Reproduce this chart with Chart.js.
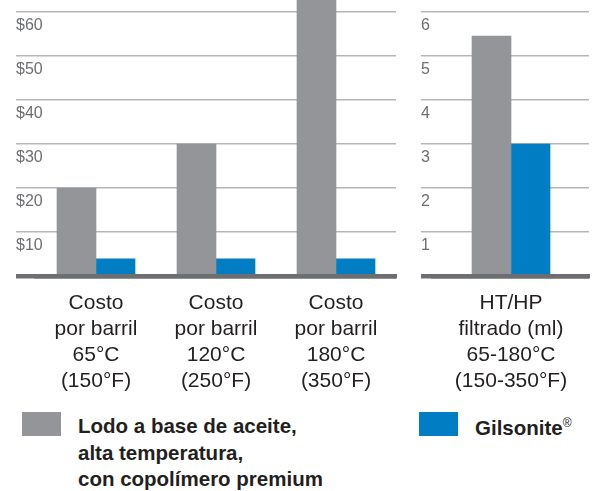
<!DOCTYPE html>
<html>
<head>
<meta charset="utf-8">
<script src="https://cdn.jsdelivr.net/npm/chart.js@4.4.1/dist/chart.umd.min.js"></script>
<style>
  html, body { margin: 0; padding: 0; background: #fff; overflow: hidden; }
  body { width: 597px; height: 491px; position: relative; font-family: "Liberation Sans", Arial, sans-serif; }
  #costChart { position: absolute; left: 0; top: -50px; }
  #filtChart { position: absolute; left: 400px; top: -50px; }
  .legend-item { position: absolute; top: 412px; }
  .swatch { position: absolute; left: 0; top: 0; width: 39px; height: 24px; }
  .legend-text { position: absolute; left: 56px; top: 1px; font-size: 20.5px; font-weight: bold; line-height: 26.5px; color: #231f20; white-space: nowrap; }
  .legend-text sup { font-size: 12px; font-weight: normal; vertical-align: 8px; line-height: 0; }
</style>
</head>
<body>
<canvas id="costChart" width="400" height="450"></canvas>
<canvas id="filtChart" width="197" height="450"></canvas>
<div id="legend"></div>
<script>
// cost per barrel (US$)
var costCategories = [
  ["Costo", "por barril", "65°C", "(150°F)"],
  ["Costo", "por barril", "120°C", "(250°F)"],
  ["Costo", "por barril", "180°C", "(350°F)"]
];
var costOilMud = [20, 30, 66];
var costGilsonite = [3.9, 3.9, 3.9];

// HT/HP filtrate (ml)
var filtCategories = [["HT/HP", "filtrado (ml)", "65-180°C", "(150-350°F)"]];
var filtOilMud = [5.45];
var filtGilsonite = [3];

var seriesNames = [
  ["Lodo a base de aceite,", "alta temperatura,", "con copolímero premium"],
  ["Gilsonite®"]
];
var seriesColors = ["#939598", "#007dc3"];

var gridColor = "#b4b6b8";
var baseColor = "#6d6e71";

Chart.defaults.font.family = '"Liberation Sans", Arial, sans-serif';

function lineColor(ctx) {
  return ctx.tick && ctx.tick.value === 0 ? baseColor : gridColor;
}
function lineWidth(ctx) {
  return ctx.tick && ctx.tick.value === 0 ? 4.5 : 1.5;
}

function buildOptions(maxValue, stepValue, prefix, padLeft, padRight, axisWidth) {
  return {
    responsive: false,
    animation: false,
    layout: { padding: { top: 18, left: padLeft, right: padRight, bottom: 4 } },
    plugins: { legend: { display: false }, tooltip: { enabled: false } },
    scales: {
      x: {
        grid: { display: false },
        border: { display: true, color: baseColor, width: 4.5, z: 1 },
        ticks: {
          color: "#231f20",
          padding: 6,
          maxRotation: 0,
          autoSkip: false,
          font: { size: 21, lineHeight: "26px" }
        },
        afterFit: function (scale) { scale.height = 120; }
      },
      y: {
        min: 0,
        max: maxValue,
        border: { display: false },
        grid: {
          drawTicks: true,
          tickLength: axisWidth,
          color: lineColor,
          lineWidth: lineWidth,
          tickColor: lineColor,
          tickWidth: lineWidth
        },
        ticks: {
          stepSize: stepValue,
          mirror: true,
          padding: -axisWidth,
          labelOffset: 14,
          color: "#6d6e71",
          font: { size: 16 },
          callback: function (v) { return v === 0 ? "" : prefix + v; }
        },
        afterFit: function (scale) { scale.width = axisWidth; }
      }
    }
  };
}

function buildData(labels, a, b) {
  return {
    labels: labels,
    datasets: [
      { label: seriesNames[0].join(" "), data: a, backgroundColor: seriesColors[0], barThickness: 39, borderWidth: 0 },
      { label: seriesNames[1].join(" "), data: b, backgroundColor: seriesColors[1], barThickness: 39, borderWidth: 0 }
    ]
  };
}

new Chart(document.getElementById("costChart"), {
  type: "bar",
  data: buildData(costCategories, costOilMud, costGilsonite),
  options: buildOptions(70, 10, "$", 16, 4, 20)
});

new Chart(document.getElementById("filtChart"), {
  type: "bar",
  data: buildData(filtCategories, filtOilMud, filtGilsonite),
  options: buildOptions(7, 1, "", 21, 8, 12)
});

// legend
var legendLeft = [22, 419];
var legend = document.getElementById("legend");
seriesNames.forEach(function (lines, i) {
  var item = document.createElement("div");
  item.className = "legend-item";
  item.style.left = legendLeft[i] + "px";
  var sw = document.createElement("div");
  sw.className = "swatch";
  sw.style.background = seriesColors[i];
  var txt = document.createElement("div");
  txt.className = "legend-text";
  if (i === 1) txt.style.top = "3px";
  txt.innerHTML = lines.join("<br>").replace("®", "<sup>®</sup>");
  item.appendChild(sw);
  item.appendChild(txt);
  legend.appendChild(item);
});
</script>
</body>
</html>
